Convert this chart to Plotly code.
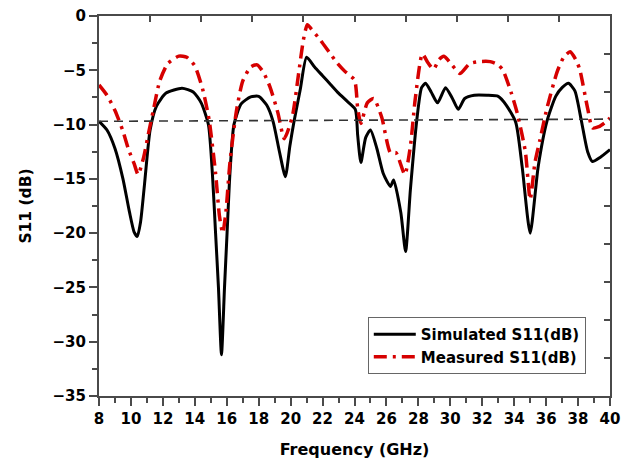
import numpy as np
import plotly.graph_objects as go

# Simulated S11 response (GHz, dB)
sim_freq = [8.0, 8.5, 9.0, 9.5, 9.9, 10.2, 10.4, 10.6, 10.85, 11.2, 11.6, 12.2, 13.2, 13.9,
            14.4, 14.85, 15.1, 15.3, 15.48, 15.67, 15.86, 16.02, 16.2, 16.45, 16.9, 17.5,
            18.0, 18.5, 18.9, 19.3, 19.67, 19.95, 20.2, 20.6, 21.0, 21.5, 22.0, 22.5, 23.0,
            23.5, 24.05, 24.2, 24.4, 24.7, 25.0, 25.4, 25.8, 26.25, 26.45, 26.9, 27.2, 27.5,
            27.9, 28.2, 28.45, 28.8, 29.2, 29.7, 30.1, 30.5, 30.9, 31.5, 32.3, 33.0, 33.5,
            34.1, 34.5, 35.0, 35.5, 36.05, 36.6, 37.0, 37.4, 37.8, 38.2, 38.6, 38.9, 39.4, 40.0]
sim_db = [-9.7, -10.5, -12.2, -15.0, -18.0, -19.9, -20.3, -19.0, -15.5, -10.5, -8.3, -7.1, -6.65, -7.0,
          -8.0, -10.0, -14.5, -20.0, -25.0, -31.2, -25.0, -20.0, -14.5, -10.0, -8.1, -7.45,
          -7.4, -8.2, -9.7, -12.5, -14.8, -12.0, -9.8, -6.8, -3.8, -4.7, -5.5, -6.3, -7.1,
          -7.8, -8.6, -11.0, -13.5, -11.2, -10.5, -12.2, -14.5, -15.7, -15.1, -18.1, -21.7, -16.0,
          -9.6, -6.6, -6.2, -7.0, -8.0, -6.6, -7.5, -8.6, -7.6, -7.3, -7.3, -7.4, -8.2,
          -9.8, -13.9, -20.0, -13.9, -9.7, -7.4, -6.6, -6.2, -6.9, -9.6, -12.5, -13.4, -13.0, -12.3]

# Measured S11 response (GHz, dB)
meas_freq = [8.0, 8.5, 9.0, 9.5, 9.85, 10.2, 10.45, 10.8, 11.1, 11.4, 11.8, 12.3, 13.0, 13.5,
             14.0, 14.5, 14.9, 15.3, 15.55, 15.75, 15.95, 16.2, 16.6, 17.0, 17.5, 17.9, 18.3,
             18.7, 19.2, 19.6, 20.1, 20.5, 20.8, 21.05, 21.3, 21.85, 22.4, 22.9, 23.4, 24.0,
             24.2, 24.4, 24.8, 25.2, 25.7, 26.25, 26.6, 27.15, 27.5, 27.8, 28.25, 28.6, 28.95,
             29.3, 29.6, 30.1, 30.6, 31.2, 31.8, 32.5, 33.0, 33.3, 33.8, 34.2, 34.7, 35.0,
             35.3, 35.6, 36.05, 36.7, 37.1, 37.5, 37.85, 38.1, 38.6, 38.9, 39.3, 39.7, 40.0]
meas_db = [-6.35, -7.3, -8.7, -10.6, -12.3, -13.6, -14.6, -13.0, -10.8, -8.7, -6.0, -4.4, -3.7, -3.8,
           -4.6, -6.8, -9.6, -14.5, -18.5, -20.0, -18.0, -13.5, -8.8, -6.0, -4.7, -4.5, -5.2,
           -6.5, -8.9, -11.3, -9.3, -5.3, -2.2, -0.8, -1.2, -2.2, -3.3, -4.3, -5.1, -5.9,
           -8.5, -9.9, -8.0, -7.6, -9.3, -12.6, -12.6, -14.6, -12.0, -7.7, -3.5, -4.3, -4.9,
           -4.0, -3.7, -4.5, -5.3, -4.4, -4.2, -4.2, -4.5, -5.0, -7.0, -9.0, -12.5, -16.9,
           -13.5, -11.5, -8.5, -5.1, -3.8, -3.3, -4.0, -4.9, -8.5, -10.3, -10.2, -9.8, -9.4]

# Reference level line
ref_freq = [8.0, 40.0]
ref_db = [-9.7, -9.5]

x_ticks = list(range(8, 41, 2))
y_ticks = list(range(-35, 1, 5))

FONT = "DejaVu Sans, Arial, sans-serif"
AXIS_COLOR = "#4a4a4a"

fig = go.Figure()

fig.add_trace(go.Scatter(
    x=sim_freq, y=sim_db, name="Simulated S11(dB)", mode="lines",
    line=dict(color="black", width=3, shape="spline", smoothing=0.6),
))
fig.add_trace(go.Scatter(
    x=meas_freq, y=meas_db, name="Measured S11(dB)", mode="lines",
    line=dict(color="#d60000", width=3.5, shape="spline", smoothing=0.6,
              dash="13px,6px,3px,6px"),
))
# dashed reference level drawn on the mirrored (top/right) axes
fig.add_trace(go.Scatter(
    x=ref_freq, y=ref_db, mode="lines", showlegend=False, hoverinfo="skip",
    line=dict(color="#333333", width=1.6, dash="9px,6px"),
    xaxis="x2", yaxis="y2",
))

tick_font = dict(family=FONT, size=15, color="black", weight="bold")
title_font = dict(family=FONT, size=15.5, color="black", weight="bold")

fig.update_layout(
    width=628, height=462,
    margin=dict(l=99, r=18, t=16, b=66),
    paper_bgcolor="white", plot_bgcolor="white",
    showlegend=True,
    legend=dict(
        x=0.526, y=0.208, xanchor="left", yanchor="top",
        bgcolor="white", bordercolor="#666666", borderwidth=1,
        font=dict(family=FONT, size=15, color="black", weight="bold"),
        tracegroupgap=0, itemwidth=42,
    ),
    xaxis=dict(
        range=[8, 40], tickvals=x_ticks, ticks="outside", ticklen=8, tickwidth=2,
        tickcolor=AXIS_COLOR, showline=True, linewidth=2, linecolor=AXIS_COLOR,
        mirror=True, showgrid=False, zeroline=False, tickfont=tick_font,
        minor=dict(dtick=1, ticks="outside", ticklen=5, tickwidth=2, tickcolor=AXIS_COLOR),
        title=dict(text="Frequency (GHz)", font=dict(title_font, size=16), standoff=17),
        automargin=False,
    ),
    yaxis=dict(
        range=[-35, 0], tickvals=y_ticks, ticks="outside", ticklen=8, tickwidth=2,
        tickcolor=AXIS_COLOR, showline=True, linewidth=2, linecolor=AXIS_COLOR,
        mirror=True, showgrid=False, zeroline=False, tickfont=tick_font,
        minor=dict(dtick=2.5, ticks="outside", ticklen=5, tickwidth=2, tickcolor=AXIS_COLOR),
        title=dict(text="S11 (dB)", font=title_font, standoff=17),
        automargin=False,
    ),
    xaxis2=dict(
        range=[8, 40], overlaying="x", side="top",
        tickvals=list(np.linspace(8, 40, 11)), ticks="inside", ticklen=6, tickwidth=2,
        tickcolor=AXIS_COLOR, showticklabels=False, showgrid=False, zeroline=False,
        showline=False,
    ),
    yaxis2=dict(
        range=[-35, 0], overlaying="y", side="right",
        tickvals=list(np.linspace(-35, 0, 11)), ticks="inside", ticklen=6, tickwidth=2,
        tickcolor=AXIS_COLOR, showticklabels=False, showgrid=False, zeroline=False,
        showline=False,
    ),
)

fig.write_html("out.html")
